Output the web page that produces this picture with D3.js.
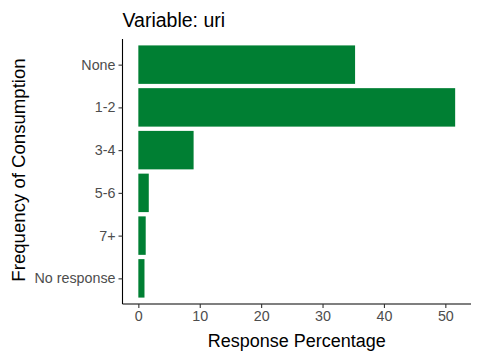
<!DOCTYPE html>
<html><head><meta charset="utf-8">
<script src="https://cdn.jsdelivr.net/npm/d3@7"></script>
<style>body{margin:0;background:#fff}svg{display:block}text{font-family:"Liberation Sans",Arial,sans-serif}</style>
</head><body>
<svg id="c" width="480" height="360"></svg>
<script>
const categories = ["None","1-2","3-4","5-6","7+","No response"];
const values = [35.3, 51.6, 9.0, 1.7, 1.2, 1.0];
const xTicks = [0,10,20,30,40,50];

const svg = d3.select("#c");
const L = 122.5, R = 471, T = 39, B = 304;
const maxV = d3.max(values);
const x = d3.scaleLinear().domain([-0.05*maxV, maxV*1.05]).range([L, R]);
const n = categories.length;
const pad = (B-T)*0.6/(n-1+1.2);
const y = d3.scalePoint().domain(categories).range([T + pad, B - pad]);
const step = y.step();
const bh = step*0.9;

svg.append("g").selectAll("rect").data(categories).join("rect")
  .attr("x", x(0)).attr("y", d => y(d) - bh/2)
  .attr("width", (d,i) => x(values[i]) - x(0)).attr("height", bh)
  .attr("fill", "#007f33");

const xa = svg.append("g").attr("transform", `translate(0,${B})`)
  .call(d3.axisBottom(x).tickValues(xTicks).tickSize(4).tickPadding(3).tickSizeOuter(0));
const ya = svg.append("g").attr("transform", `translate(${L},0)`)
  .call(d3.axisLeft(y).tickSize(4).tickPadding(3).tickSizeOuter(0));
[xa, ya].forEach(a => {
  a.attr("font-size", null).attr("font-family", null);
  a.select(".domain").attr("stroke", "#000").attr("stroke-width", 1.1);
  a.selectAll(".tick line").attr("stroke", "#333").attr("stroke-width", 1.1);
  a.selectAll(".tick text").attr("fill", "#4d4d4d").attr("font-size", 14.3);
});
xa.select(".domain").attr("d", `M${L},0H${R}`);
ya.select(".domain").attr("d", `M0,${T}V${B}`);

svg.append("text").attr("x", L).attr("y", 27).attr("font-size", 19.5).attr("fill", "#000").text("Variable: uri");
svg.append("text").attr("x", (L+R)/2).attr("y", 347).attr("text-anchor", "middle").attr("font-size", 18).attr("fill", "#000").text("Response Percentage");
svg.append("text").attr("transform", `translate(25,170) rotate(-90)`).attr("text-anchor", "middle").attr("font-size", 18.6).attr("fill", "#000").text("Frequency of Consumption");
</script>
</body></html>
